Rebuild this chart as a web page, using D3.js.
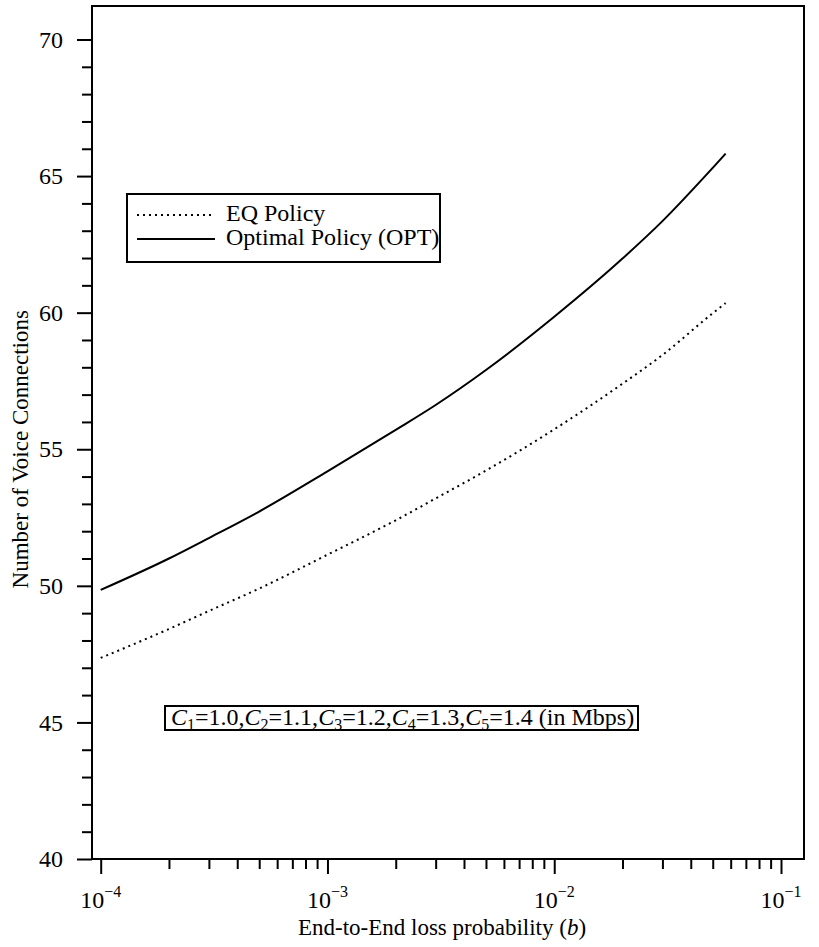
<!DOCTYPE html>
<html>
<head>
<meta charset="utf-8">
<script src="https://cdn.jsdelivr.net/npm/d3@7"></script>
<style>
  body { margin: 0; background: #fff; }
  svg text { font-family: "Liberation Serif", "Times New Roman", serif; fill: #000; }
</style>
</head>
<body>
<div id="chart"></div>
<script>
// loss probability b and number of voice connections per policy
const lossProb = [1e-4, 2e-4, 3e-4, 5e-4, 1e-3, 2e-3, 3e-3, 5e-3, 1e-2, 2e-2, 3e-2, 5e-2, 0.057];
const optValues = [49.85, 51.0, 51.75, 52.72, 54.19, 55.71, 56.62, 57.9, 59.85, 61.98, 63.35, 65.3, 65.82];
const eqValues = [47.36, 48.42, 49.08, 49.9, 51.14, 52.4, 53.2, 54.22, 55.73, 57.4, 58.45, 59.98, 60.35];

const yMajor = [40, 45, 50, 55, 60, 65, 70];
const xMajor = [-4, -3, -2, -1]; // exponents
const legendLabels = ["EQ Policy", "Optimal Policy (OPT)"];
const capacities = ["1.0", "1.1", "1.2", "1.3", "1.4"];

const W = 819, H = 947;
const margin = { top: 6, left: 92 };
const width = 712, height = 853;

const svg = d3.select('#chart').append('svg')
    .attr('width', W).attr('height', H);
const g = svg.append('g').attr('transform', `translate(${margin.left},${margin.top})`);

const x = d3.scaleLog().domain([1e-4, 1e-1]).range([8.7, 689]);
const y = d3.scaleLinear().domain([40, 70]).range([853, 33.5]);

// minor ticks
const yMinor = d3.range(40, 71, 1).filter(v => v % 5 !== 0);
g.append('g').call(d3.axisLeft(y).tickValues(yMinor).tickSize(10).tickFormat(''))
    .call(a => a.select('.domain').remove())
    .selectAll('line').attr('stroke-width', 2);

const xMinor = [];
xMajor.slice(0, 3).forEach(e => { for (let k = 2; k <= 9; k++) xMinor.push(k * Math.pow(10, e)); });
g.append('g').attr('transform', `translate(0,${height})`)
    .call(d3.axisBottom(x).tickValues(xMinor).tickSize(10).tickFormat(''))
    .call(a => a.select('.domain').remove())
    .selectAll('line').attr('stroke-width', 2);

// major ticks
const yAxis = g.append('g').call(d3.axisLeft(y).tickValues(yMajor).tickSize(15).tickPadding(14))
    .attr('font-family', null).attr('font-size', 24)
    .call(a => a.select('.domain').remove());
yAxis.selectAll('line').attr('stroke-width', 2);

const xAxis = g.append('g').attr('transform', `translate(0,${height})`)
    .call(d3.axisBottom(x).tickValues(xMajor.map(e => Math.pow(10, e))).tickSize(15).tickFormat(''))
    .call(a => a.select('.domain').remove());
xAxis.selectAll('line').attr('stroke-width', 2);

const xLab = g.append('g').selectAll('text').data(xMajor).join('text')
    .attr('x', e => x(Math.pow(10, e)))
    .attr('y', height + 49)
    .attr('text-anchor', 'middle')
    .attr('font-size', 24);
xLab.append('tspan').text('10');
xLab.append('tspan').attr('dy', -11).attr('font-size', 16).text(e => '\u2212' + Math.abs(e));

// frame
g.append('rect').attr('width', width).attr('height', height)
    .attr('fill', 'none').attr('stroke', '#000').attr('stroke-width', 2);

// curves
const line = d3.line().curve(d3.curveMonotoneX).x(d => x(d[0])).y(d => y(d[1]));
g.append('path').datum(d3.zip(lossProb, optValues))
    .attr('d', line).attr('fill', 'none').attr('stroke', '#000').attr('stroke-width', 2);
g.append('path').datum(d3.zip(lossProb, eqValues))
    .attr('d', line).attr('fill', 'none').attr('stroke', '#000').attr('stroke-width', 2)
    .attr('stroke-dasharray', '2,4');

// axis titles
const xt = svg.append('text').attr('x', 442).attr('y', 935).attr('text-anchor', 'middle')
    .attr('font-size', 23);
xt.append('tspan').text('End-to-End loss probability (');
xt.append('tspan').attr('font-style', 'italic').text('b');
xt.append('tspan').text(')');

svg.append('text').attr('transform', `translate(28,${margin.top + (y(40) + y(70)) / 2}) rotate(-90)`)
    .attr('text-anchor', 'middle').attr('font-size', 23)
    .text('Number of Voice Connections');

// legend
const leg = svg.append('g').attr('transform', 'translate(127,194)');
leg.append('rect').attr('width', 313).attr('height', 68)
    .attr('fill', '#fff').attr('stroke', '#000').attr('stroke-width', 2);
legendLabels.forEach((lab, i) => {
    leg.append('line').attr('x1', 10).attr('x2', 88).attr('y1', 21 + i * 24).attr('y2', 21 + i * 24)
        .attr('stroke', '#000').attr('stroke-width', 2)
        .attr('stroke-dasharray', i === 0 ? '2,4' : null);
    leg.append('text').attr('x', 99).attr('y', 27 + i * 24).attr('font-size', 24).text(lab);
});

// capacity annotation
const ann = svg.append('g').attr('transform', 'translate(165,706)');
ann.append('rect').attr('width', 473).attr('height', 24)
    .attr('fill', '#fff').attr('stroke', '#000').attr('stroke-width', 2);
const at = ann.append('text').attr('x', 6).attr('y', 19).attr('font-size', 24);
capacities.forEach((c, i) => {
    at.append('tspan').attr('font-style', 'italic').text('C');
    at.append('tspan').attr('font-size', 16).attr('dy', 5).text(i + 1);
    at.append('tspan').attr('dy', -5).text('=' + c + (i < capacities.length - 1 ? ',' : ''));
});
at.append('tspan').text(' (in Mbps)');
</script>
</body>
</html>
